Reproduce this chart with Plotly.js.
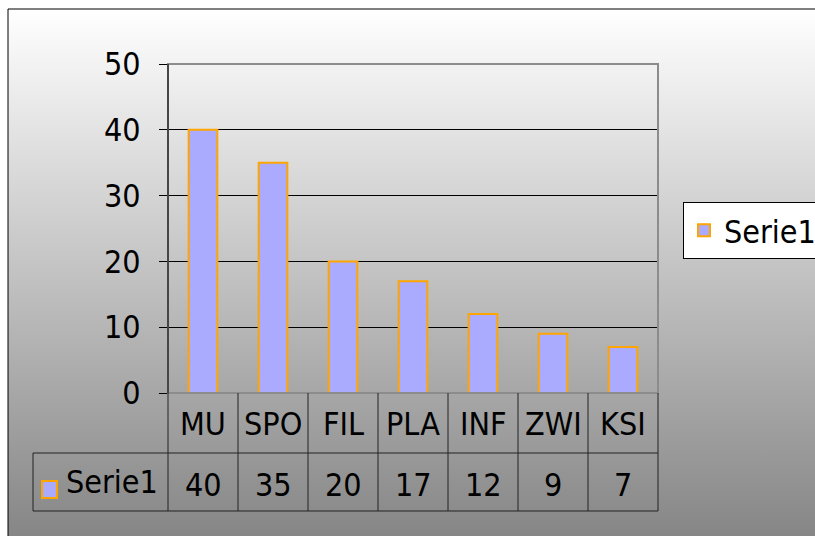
<!DOCTYPE html>
<html>
<head>
<meta charset="utf-8">
<script src="https://cdn.plot.ly/plotly-3.0.1.min.js"></script>
<style>
html,body{margin:0;padding:0;background:#fff;}
#chart{width:815px;height:536px;}
</style>
</head>
<body>
<div id="chart"></div>
<script>
// ---- data ----
var categories = ["MU", "SPO", "FIL", "PLA", "INF", "ZWI", "KSI"];
var values = [40, 35, 20, 17, 12, 9, 7];
var seriesName = "Serie1";
var yTicks = [0, 10, 20, 30, 40, 50];

// ---- layout helpers (pixel -> paper) ----
var W = 815, H = 536;
var L = 168, R = 658, T = 64, B = 393;
function px(x){ return (x - L) / (R - L); }
function py(y){ return (B - y) / (B - T); }

var FONT = "DejaVu Sans Condensed, DejaVu Sans, sans-serif";
var FS = 32;
var N = categories.length;

var shapes = [];
var annotations = [];

// outer chart border
shapes.push({type:"rect", xref:"paper", yref:"paper", layer:"below",
  x0:px(8), x1:px(830), y0:py(560), y1:py(9),
  line:{color:"#000", width:1}, fillcolor:"rgba(0,0,0,0)"});

// plot-area gray frame
shapes.push({type:"rect", xref:"paper", yref:"paper", layer:"above",
  x0:0, x1:1, y0:0, y1:1, line:{color:"#8c8c8c", width:2}});
// black y axis line on the left
shapes.push({type:"line", xref:"paper", yref:"paper", layer:"above",
  x0:0, x1:0, y0:0, y1:1, line:{color:"#000", width:1}});

// data table
var tblLine = {color:"#222", width:1};
var rowMid = py(453), rowBot = py(511);
for (var i = 0; i <= N; i++) {
  shapes.push({type:"line", xref:"paper", yref:"paper", layer:"above",
    x0:i/N, x1:i/N, y0:0, y1:rowBot, line:tblLine});
}
shapes.push({type:"line", xref:"paper", yref:"paper", layer:"above",
  x0:px(33), x1:1, y0:rowMid, y1:rowMid, line:tblLine});
shapes.push({type:"line", xref:"paper", yref:"paper", layer:"above",
  x0:px(33), x1:1, y0:rowBot, y1:rowBot, line:tblLine});
shapes.push({type:"line", xref:"paper", yref:"paper", layer:"above",
  x0:px(33), x1:px(33), y0:rowMid, y1:rowBot, line:tblLine});
// legend key in table
shapes.push({type:"rect", xref:"paper", yref:"paper", layer:"above",
  x0:px(42), x1:px(57), y0:py(498), y1:py(481),
  fillcolor:"#aaaaff", line:{color:"#ffa500", width:2}});
annotations.push({xref:"paper", yref:"paper", x:px(64), y:(rowMid+rowBot)/2,
  xanchor:"left", yanchor:"middle", text:seriesName, showarrow:false,
  font:{family:FONT, size:FS, color:"#000"}});

for (var j = 0; j < N; j++) {
  annotations.push({xref:"x", yref:"paper", x:categories[j], y:py(424),
    xanchor:"center", yanchor:"middle", text:categories[j], showarrow:false,
    font:{family:FONT, size:FS, color:"#000"}});
  annotations.push({xref:"x", yref:"paper", x:categories[j], y:py(485),
    xanchor:"center", yanchor:"middle", text:String(values[j]), showarrow:false,
    font:{family:FONT, size:FS, color:"#000"}});
}

// background gradient image
var grad = '<svg xmlns="http://www.w3.org/2000/svg" width="10" height="100" preserveAspectRatio="none">' +
  '<defs><linearGradient id="g" x1="0" y1="0" x2="0" y2="1">' +
  '<stop offset="0" stop-color="#ffffff"/><stop offset="1" stop-color="#868686"/></linearGradient></defs>' +
  '<rect width="10" height="100" fill="url(#g)"/></svg>';
var gradURI = "data:image/svg+xml;base64," + btoa(grad);

var trace = {
  type:"bar", x:categories, y:values, name:seriesName,
  width:0.41,
  marker:{color:"#aaaaff", line:{color:"#ffa500", width:2}},
  hoverinfo:"x+y"
};

var layout = {
  width:W, height:H,
  margin:{l:L, r:W-R, t:T, b:H-B, pad:0, autoexpand:false},
  paper_bgcolor:"#ffffff",
  plot_bgcolor:"#d3d3d3",
  font:{family:FONT, size:FS, color:"#000"},
  showlegend:true,
  legend:{x:px(683), y:py(202), xanchor:"left", yanchor:"top",
    bgcolor:"#ffffff", bordercolor:"#000", borderwidth:1,
    font:{family:FONT, size:FS, color:"#000"}},
  xaxis:{type:"category", range:[-0.5, N-0.5], showticklabels:false,
    showgrid:false, zeroline:false, showline:false, ticks:"", fixedrange:true},
  yaxis:{range:[0,50], tickvals:yTicks, ticktext:yTicks.map(String),
    showgrid:true, gridcolor:"#000", gridwidth:1, zeroline:false,
    showline:false, ticks:"outside", ticklen:8, tickcolor:"#000", tickwidth:1,
    ticklabelstandoff:12,
    tickfont:{family:FONT, size:FS, color:"#000"}, fixedrange:true},
  images:[{source:gradURI, xref:"paper", yref:"paper",
    x:px(8), y:py(9), sizex:px(815)-px(8), sizey:py(9)-py(536),
    xanchor:"left", yanchor:"top", sizing:"stretch", layer:"below"}],
  shapes:shapes,
  annotations:annotations
};

Plotly.newPlot("chart", [trace], layout, {displayModeBar:false, staticPlot:true});
</script>
</body>
</html>
